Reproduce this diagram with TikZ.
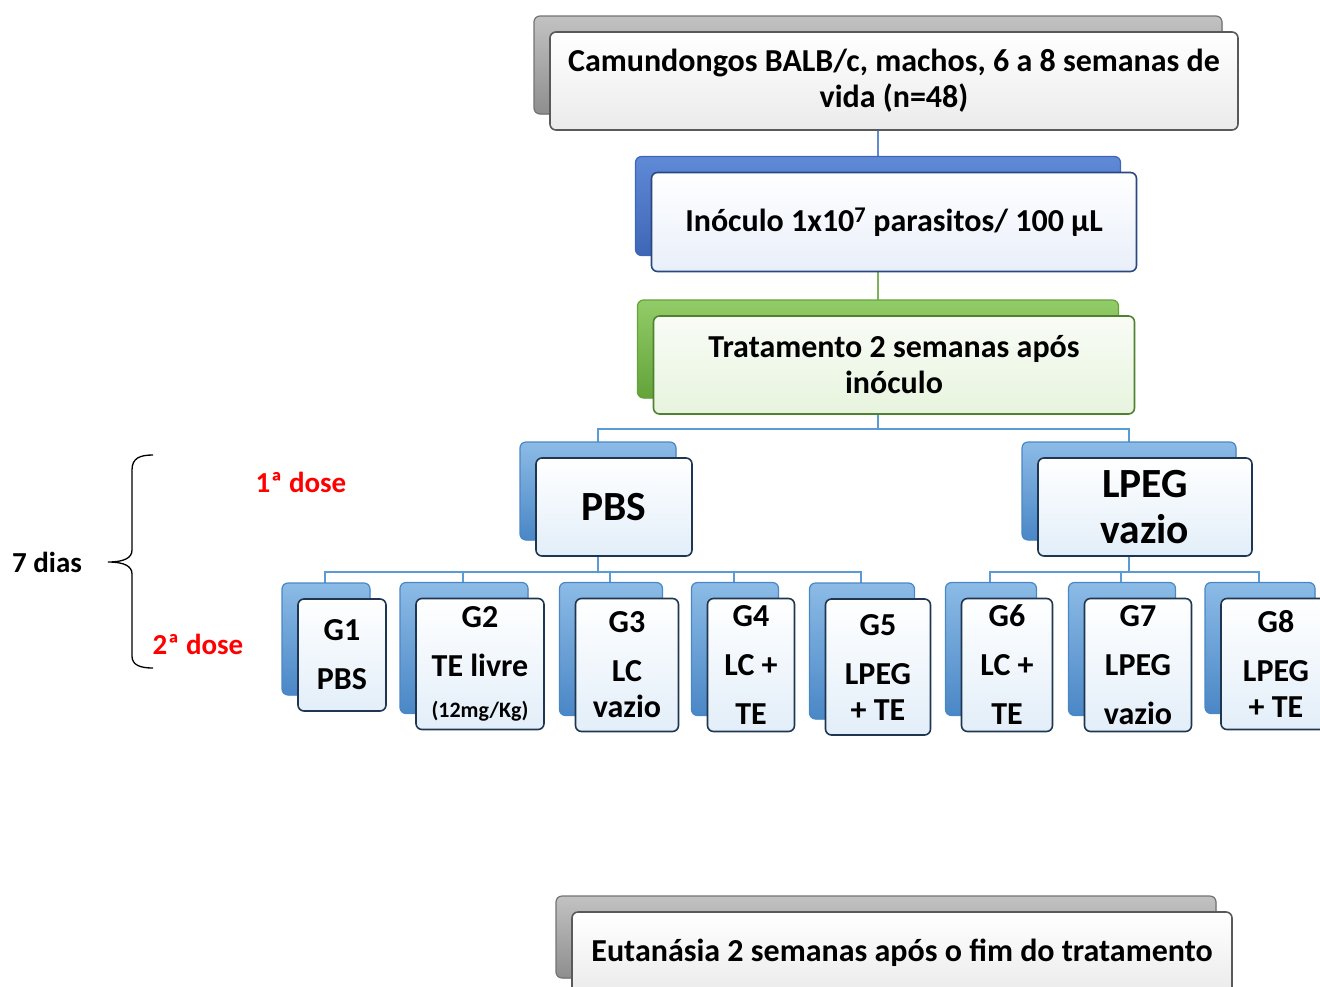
\documentclass[tikz,border=0pt]{standalone}
\usepackage{fontspec}
\setmainfont{Carlito}
\usetikzlibrary{shadows,backgrounds}

\definecolor{linkblue}{HTML}{5B9BD5}
\definecolor{linkgreen}{HTML}{7FB05A}
\definecolor{grytop}{HTML}{C2C2C2}
\definecolor{grybot}{HTML}{8E8E8E}
\definecolor{bluetop}{HTML}{5F8AD6}
\definecolor{bluebot}{HTML}{3E66B6}
\definecolor{grntop}{HTML}{92CC68}
\definecolor{grnbot}{HTML}{63A33A}
\definecolor{grptop}{HTML}{8CBBE6}
\definecolor{grpbot}{HTML}{4A87C6}
\definecolor{dosered}{HTML}{FF0000}

\tikzset{
  box/.style={rounded corners=6pt, line width=1.6pt, align=center, inner sep=2pt,
    font=\bfseries\fontsize{32}{36}\selectfont},
  grybox/.style={box, draw=black!65, top color=white, bottom color=black!8,
    copy shadow={shadow xshift=-16pt, shadow yshift=16pt, draw=black!55,
      line width=1.2pt, top color=grytop, bottom color=grybot}},
  inobox/.style={box, draw=bluebot!70!black, top color=white, bottom color=bluetop!14,
    copy shadow={shadow xshift=-16pt, shadow yshift=16pt, draw=bluebot,
      line width=1.2pt, top color=bluetop, bottom color=bluebot}},
  trabox/.style={box, draw=grnbot!80!black, top color=grntop!6, bottom color=grntop!22,
    copy shadow={shadow xshift=-16pt, shadow yshift=16pt, draw=grnbot,
      line width=1.2pt, top color=grntop, bottom color=grnbot}},
  grpbox/.style={box, draw=black!60!grpbot, top color=white, bottom color=grptop!25,
    copy shadow={shadow xshift=-16pt, shadow yshift=16pt, draw=grpbot,
      line width=1.2pt, top color=grptop, bottom color=grpbot}},
  armbox/.style={grpbox, font=\bfseries\fontsize{41.5}{46}\selectfont},
  gbox/.style={grpbox, font=\bfseries\fontsize{32}{49}\selectfont},
  conn/.style={line width=2pt, draw=linkblue},
  dose/.style={text=dosered, font=\bfseries\fontsize{29}{32}\selectfont},
}

\begin{document}
\begin{tikzpicture}[x=1pt,y=-1pt]
\useasboundingbox (0,0) rectangle (1320,986);
\clip (0,0) rectangle (1320,986);

% main steps
\node[grybox, minimum width=688pt, minimum height=98pt] (cam) at (894,81)
  {Camundongos BALB/c, machos, 6 a 8 semanas de\\vida (n=48)};
\node[inobox, minimum width=485pt, minimum height=99pt] (inoc) at (894,222)
  {Inóculo 1x10\textsuperscript{7} parasitos/ 100 µL};
\node[trabox, minimum width=481pt, minimum height=98pt] (trat) at (894,365)
  {Tratamento 2 semanas após\\inóculo};

% arms
\node[armbox, minimum width=156pt, minimum height=98pt] (pbs) at (614,507) {PBS};
\node[armbox, minimum width=214pt, minimum height=98pt] (lpeg) at (1145,507) {LPEG\\vazio};

% groups
\node[gbox, minimum width=88pt, minimum height=112pt] (g1) at (342,655) {G1\\PBS};
\node[gbox, minimum width=128pt, minimum height=131pt] (g2) at (480,664)
  {G2\\TE livre\\[-8pt]{\fontsize{22}{26}\selectfont(12mg/Kg)}};
\node[gbox, minimum width=103pt, minimum height=133pt] (g3) at (627,665) {G3\\LC\\[-13pt]vazio};
\node[gbox, minimum width=87pt, minimum height=133pt] (g4) at (751,665) {G4\\LC +\\TE};
\node[gbox, minimum width=105pt, minimum height=136pt] (g5) at (878,667) {G5\\LPEG\\[-13pt]+ TE};
\node[gbox, minimum width=91pt, minimum height=133pt] (g6) at (1007,665) {G6\\LC +\\TE};
\node[gbox, minimum width=107pt, minimum height=133pt] (g7) at (1138,665) {G7\\LPEG\\vazio};
\node[gbox, minimum width=110pt, minimum height=131pt] (g8) at (1276,664) {G8\\LPEG\\[-13pt]+ TE};

% end point
\node[grybox, minimum width=660pt, minimum height=82pt] (eut) at (902,953)
  {Eutanásia 2 semanas após o fim do tratamento};

% doses
\node[dose] (d1) at (301,482) {1ª dose};
\node[dose] (d2) at (198,644) {2ª dose};
\node[font=\bfseries\fontsize{29}{32}\selectfont] (dias) at (47,562) {7 dias};
\coordinate (btip) at (108,562);
\draw[line width=1.3pt] (153,455) .. controls (140,455) and (132,458) .. (132,470)
  -- (132,550) .. controls (132,558) and (124,562) .. (btip)
  .. controls (124,562) and (132,566) .. (132,574)
  -- (132,656) .. controls (132,665) and (140,668) .. (153,668);

% links
\begin{scope}[on background layer]
\draw[line width=2pt, draw=bluetop] ([xshift=-16pt]cam.south) -- ([xshift=-16pt]inoc.north);
\draw[line width=2pt, draw=linkgreen] ([xshift=-16pt]inoc.south) -- ([xshift=-16pt]trat.north);
\draw[conn] ([xshift=-16pt]trat.south) -- ++(0,14) -| ([xshift=-16pt]pbs.north);
\draw[conn] ([xshift=-16pt]trat.south) -- ++(0,14) -| ([xshift=-16pt]lpeg.north);
\foreach \g in {g1,g2,g3,g4,g5}
  \draw[conn] ([xshift=-16pt]pbs.south) -- ++(0,15) -| ([xshift=-17pt]\g.north);
\foreach \g in {g6,g7,g8}
  \draw[conn] ([xshift=-16pt]lpeg.south) -- ++(0,15) -| ([xshift=-17pt]\g.north);
\end{scope}
\end{tikzpicture}
\end{document}
